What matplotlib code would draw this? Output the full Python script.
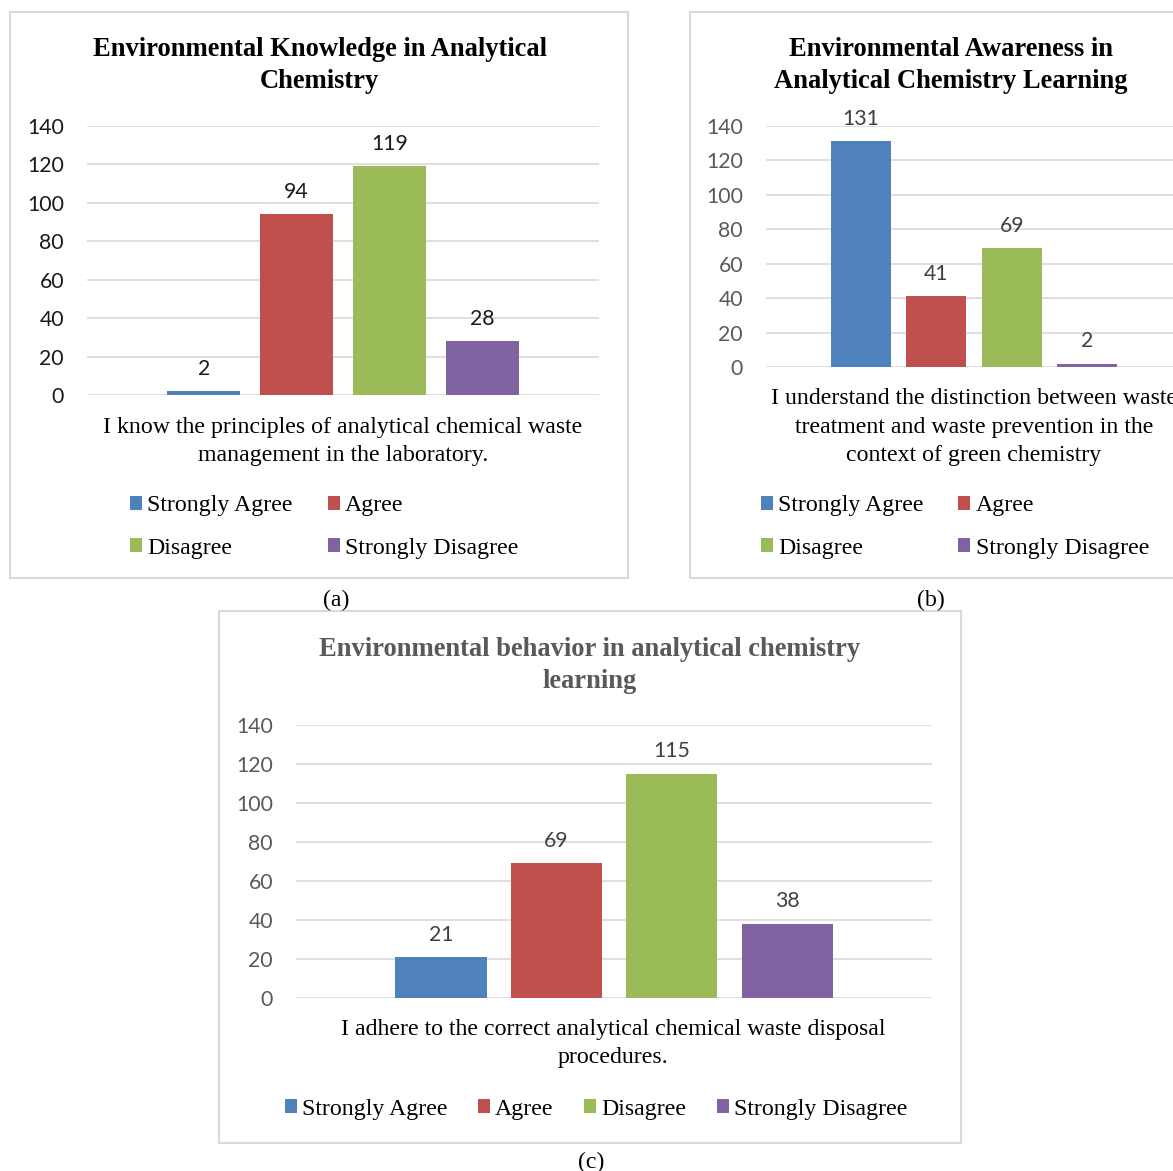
import matplotlib
matplotlib.use("Agg")
import matplotlib.pyplot as plt
from matplotlib.patches import Rectangle

# ---------------- data ----------------
categories = ["Strongly Agree", "Agree", "Disagree", "Strongly Disagree"]
values_a = [2, 94, 119, 28]
values_b = [131, 41, 69, 2]
values_c = [21, 69, 115, 38]
y_ticks = [0, 20, 40, 60, 80, 100, 120, 140]
title_a = ["Environmental Knowledge in Analytical", "Chemistry"]
title_b = ["Environmental Awareness in", "Analytical Chemistry Learning"]
title_c = ["Environmental behavior in analytical chemistry", "learning"]
xlabel_a = ["I know the principles of analytical chemical waste",
            "management in the laboratory."]
xlabel_b = ["I understand the distinction between waste",
            "treatment and waste prevention in the",
            "context of green chemistry"]
xlabel_c = ["I adhere to the correct analytical chemical waste disposal",
            "procedures."]
captions = ["(a)", "(b)", "(c)"]
colors = ["#4F81BD", "#C0504D", "#9BBB59", "#8064A2"]

W, H = 1173, 1171
fig = plt.figure(figsize=(W / 100, H / 100), dpi=100)
fig.patch.set_facecolor("white")

SERIF = "Liberation Serif"
SANS = "Lato"
GRID = "#D9D9D9"


def fx(x):
    return x / W


def fy(y):
    return 1 - y / H


def box(x0, y0, x1, y1):
    fig.patches.append(Rectangle((fx(x0), fy(y1)), (x1 - x0) / W, (y1 - y0) / H,
                                 transform=fig.transFigure, fill=False,
                                 edgecolor=GRID, linewidth=1.5, zorder=0))


def panel(values, rect_px, tick_color, val_color, title, title_xy, title_color,
          xlabel, xlabel_xy, leg_anchor, ncol, colspace, caption, cap_xy):
    x0, y0, x1, y1 = rect_px
    ax = fig.add_axes([fx(x0), fy(y1), (x1 - x0) / W, (y1 - y0) / H])
    handles = []
    for i, (cat, v) in enumerate(zip(categories, values)):
        bc = ax.bar(i, v, width=0.79, color=colors[i], label=cat, zorder=3)
        ax.bar_label(bc, padding=9, fontsize=15.3, color=val_color, family=SANS)
        handles.append(bc)
    ax.set_ylim(0, 140)
    ax.set_yticks(y_ticks)
    ax.set_xticks([])
    ax.grid(axis="y", color=GRID, linewidth=1.2, zorder=0)
    ax.set_axisbelow(True)
    for s in ax.spines.values():
        s.set_visible(False)
    ax.tick_params(axis="y", length=0, pad=16.5, labelsize=15.3, labelcolor=tick_color)
    for lab in ax.get_yticklabels():
        lab.set_family(SANS)
    ax.set_facecolor("none")
    ax.set_xlim(1.5 - 2.756, 1.5 + 2.756)
    # title
    tx, ty0, tdy = title_xy
    for k, line in enumerate(title):
        fig.text(fx(tx), fy(ty0 + k * tdy), line, ha="center", va="center",
                 fontsize=19.1, fontweight="bold", family=SERIF, color=title_color)
    lx, ly0, ldy = xlabel_xy
    for k, line in enumerate(xlabel):
        fig.text(fx(lx), fy(ly0 + k * ldy), line, ha="center", va="center",
                 fontsize=17.2, family=SERIF, color="black")
    # legend
    if ncol == 2:
        order = [0, 2, 1, 3]
    else:
        order = [0, 1, 2, 3]
    fig.legend([handles[i] for i in order], [categories[i] for i in order],
               loc="center left", bbox_to_anchor=(fx(leg_anchor[0]), fy(leg_anchor[1])),
               ncol=ncol, frameon=False, borderpad=0, borderaxespad=0,
               handlelength=0.5, handleheight=0.5, handletextpad=0.22,
               columnspacing=colspace, labelspacing=0.88,
               prop={"family": SERIF, "size": 17.2})
    fig.text(fx(cap_xy[0]), fy(cap_xy[1]), caption, ha="center", va="center",
             fontsize=17.2, family=SERIF, color="black")
    return ax


# panel borders
box(10, 12, 628, 578)
box(690, 12, 1200, 578)
box(219, 611, 961, 1143)

panel(values_a, (87, 126, 599, 395), "#1a1a1a", "#1a1a1a",
      title_a, (319.5, 50, 31), "black",
      xlabel_a, (343, 427, 28), (130, 527), 2, 1.48, captions[0], (336, 600))

panel(values_b, (766, 126, 1182, 367), "#595959", "#404040",
      title_b, (951, 50, 31), "black",
      xlabel_b, (974, 399, 28), (761, 527), 2, 1.45, captions[1], (931, 600))

panel(values_c, (296, 725, 932, 998), "#595959", "#404040",
      title_c, (589.5, 650, 31), "#595959",
      xlabel_c, (613, 1030, 28), (285, 1109), 4, 1.27, captions[2], (591, 1162))

fig.savefig("out.png", dpi=100, facecolor="white")
